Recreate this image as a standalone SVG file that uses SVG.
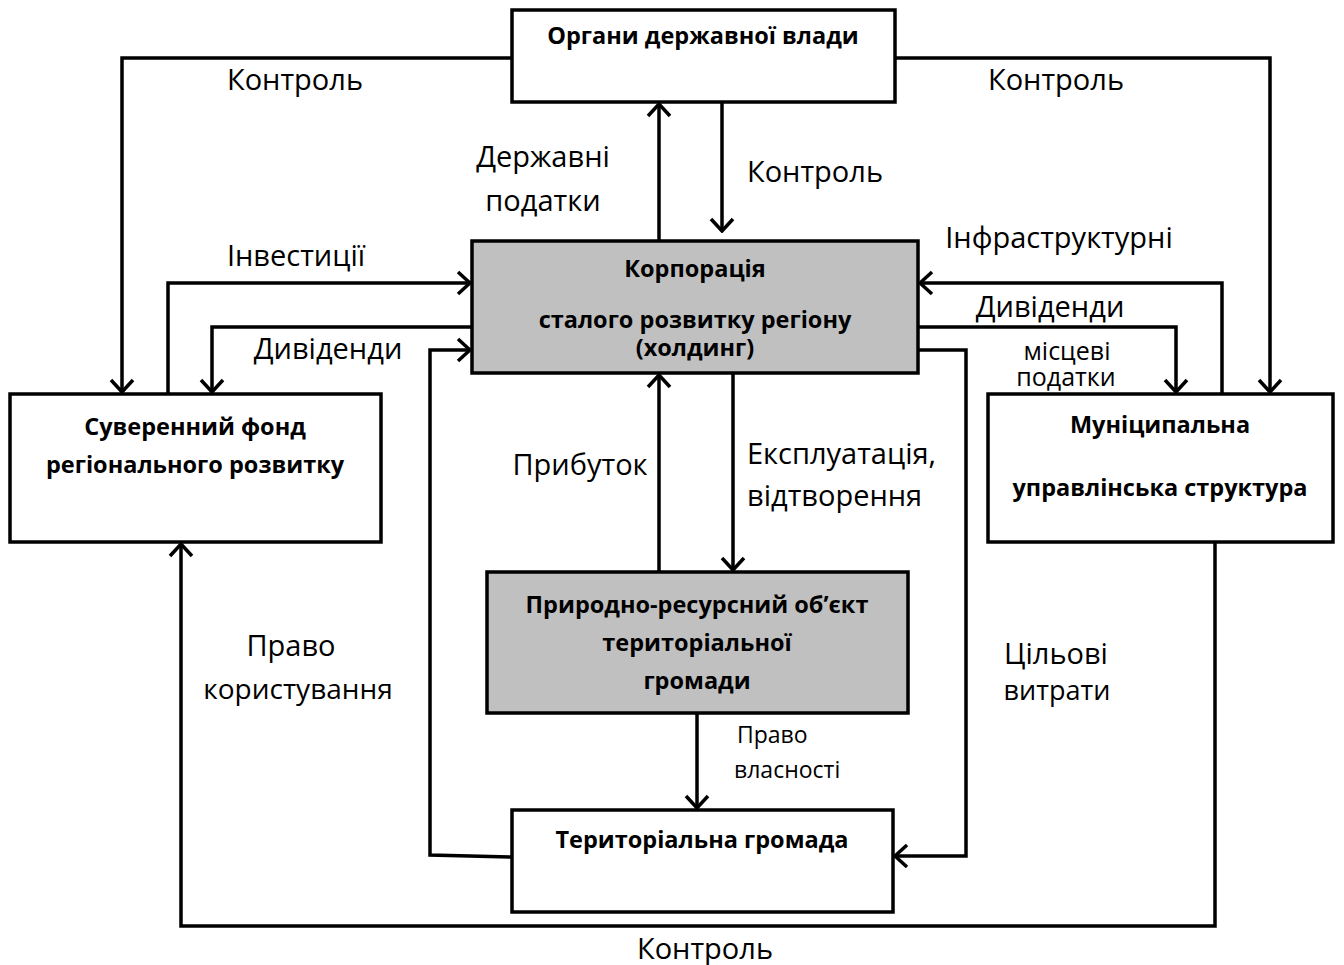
<svg xmlns="http://www.w3.org/2000/svg" width="1344" height="965" viewBox="0 0 1344 965">
<style>
.box{fill:#fff;stroke:#000;stroke-width:3.5}
.gray{fill:#c0c0c0;stroke:#000;stroke-width:3.5}
.bt{font-family:"Open Sans","Liberation Sans",sans-serif;font-weight:bold;font-size:23.5px;text-anchor:middle;fill:#000}
.lt{font-family:"Open Sans","Liberation Sans",sans-serif;font-size:29px;text-anchor:middle;fill:#000}
.st{font-family:"Open Sans","Liberation Sans",sans-serif;font-size:23px;text-anchor:start;fill:#000}
.ls{text-anchor:start}
.c{fill:none;stroke:#000;stroke-width:3.5;marker-end:url(#a)}
</style>
<defs>
<marker id="a" markerUnits="userSpaceOnUse" viewBox="0 0 16 26" markerWidth="16" markerHeight="26" refX="14" refY="13" orient="auto">
<path d="M2,2 L14,13 L2,24" fill="none" stroke="#000" stroke-width="3.5"/>
</marker>
</defs>
<rect width="1344" height="965" fill="#fff"/>
<g id="connectors">
<path class="c" d="M512,58 H122 V392"/>
<path class="c" d="M895,58 H1270 V392"/>
<path class="c" d="M659,241 V104"/>
<path class="c" d="M722,102 V231"/>
<path class="c" d="M168,394 V283 H470"/>
<path class="c" d="M472,327 H212 V392"/>
<path class="c" d="M512,857 L430,855 V350 H470"/>
<path class="c" d="M918,350 H966 V856 H895"/>
<path class="c" d="M1222,394 V283 H920"/>
<path class="c" d="M918,327 H1176 V392"/>
<path class="c" d="M659,572 V375"/>
<path class="c" d="M733,373 V570"/>
<path class="c" d="M697,713 V808"/>
<path class="c" d="M1215,542 V926 H181 V544"/>
<text class="lt" x="295" y="90">Контроль</text>
<text class="lt" x="1056" y="90">Контроль</text>
<text class="lt" x="543" y="167">Державні</text>
<text class="lt" x="543" y="211">податки</text>
<text class="lt" x="815" y="182">Контроль</text>
<text class="lt" x="296" y="266">Інвестиції</text>
<text class="lt" x="328" y="359">Дивіденди</text>
<text class="lt" x="1059" y="248">Інфраструктурні</text>
<text class="lt" x="1050" y="317">Дивіденди</text>
<text class="lt" x="1067" y="360" style="font-size:25px">місцеві</text>
<text class="lt" x="1066" y="386" style="font-size:25px">податки</text>
<text class="lt" x="580" y="475">Прибуток</text>
<text class="lt ls" x="747" y="464">Експлуатація,</text>
<text class="lt ls" x="747" y="506">відтворення</text>
<text class="st" x="737" y="743">Право</text>
<text class="st" x="734" y="778">власності</text>
<text class="lt" x="291" y="656">Право</text>
<text class="lt" x="298" y="699" style="font-size:28px">користування</text>
<text class="lt" x="1056" y="664">Цільові</text>
<text class="lt" x="1057" y="700" style="font-size:27px">витрати</text>
<text class="lt" x="705" y="959">Контроль</text>
</g>
<g id="organy">
<rect class="box" x="512" y="10" width="383" height="92"/>
<text class="bt" x="703" y="44">Органи державної влади</text>
</g>
<g id="corporation">
<rect class="gray" x="472" y="241" width="446" height="132"/>
<text class="bt" x="695" y="277">Корпорація</text>
<text class="bt" x="695" y="328">сталого розвитку регіону</text>
<text class="bt" x="695" y="356">(холдинг)</text>
</g>
<g id="sovereign">
<rect class="box" x="10" y="394" width="371" height="148"/>
<text class="bt" x="195" y="435">Суверенний фонд</text>
<text class="bt" x="195" y="473">регіонального розвитку</text>
</g>
<g id="municipal">
<rect class="box" x="988" y="394" width="345" height="148"/>
<text class="bt" x="1160" y="433">Муніципальна</text>
<text class="bt" x="1160" y="496">управлінська структура</text>
</g>
<g id="resource">
<rect class="gray" x="487" y="572" width="421" height="141"/>
<text class="bt" x="697" y="613">Природно-ресурсний об’єкт</text>
<text class="bt" x="697" y="651">територіальної</text>
<text class="bt" x="697" y="689">громади</text>
</g>
<g id="community">
<rect class="box" x="512" y="810" width="381" height="102"/>
<text class="bt" x="702" y="848">Територіальна громада</text>
</g>
</svg>
